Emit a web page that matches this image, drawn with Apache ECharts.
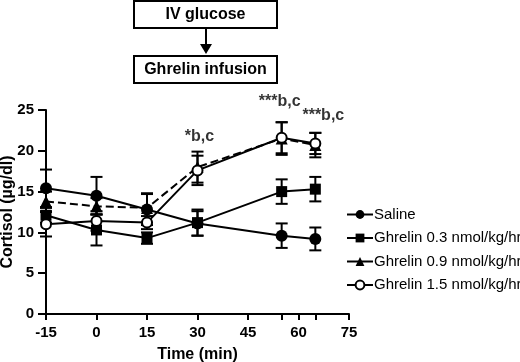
<!DOCTYPE html>
<html lang="en" style="height: 100%">
<head>
  <meta charset="utf-8">
  <script type="text/javascript" src="https://cdn.jsdelivr.net/npm/echarts@6/dist/echarts.min.js"></script>
</head>
<body style="height: 100%; margin: 0; background: #fff">
  <div id="chart" style="height: 362px; width: 520px"></div>

  <script type="text/javascript">
    var times = [-15, 0, 15, 30, 55, 65];
    var names = ['Saline', 'Ghrelin 0.3 nmol/kg/hr', 'Ghrelin 0.9 nmol/kg/hr', 'Ghrelin 1.5 nmol/kg/hr'];

    var saline = [15.4, 14.5, 12.8, 11.1, 9.6, 9.2];
    var salineErr = [2.3, 2.3, 1.9, 1.5, 1.5, 1.4];
    var g03 = [12.1, 10.3, 9.3, 11.2, 15.0, 15.3];
    var g03Err = [0.9, 1.9, 0.7, 1.6, 1.5, 1.5];
    var g09 = [13.8, 13.2, 13.0, 18.0, 21.5, 20.7];
    var g09Err = [1.2, 1.0, 1.8, 1.9, 2.0, 1.5];
    var g15 = [11.0, 11.4, 11.2, 17.6, 21.6, 20.9];
    var g15Err = [1.5, 1.2, 0.8, 1.8, 1.9, 1.3];

    var xTicks = [-15, 0, 15, 30, 45, 60, 75];
    var xMinorTicks = [-15, 0, 15, 30, 45, 55, 60, 65, 75];

    var sigTimes = [30, 55, 65];
    var sigY = [21.8, 26.0, 24.3];
    var sigText = ['*b,c', '***b,c', '***b,c'];

    var font = 'Arial, "Liberation Sans", sans-serif';

    function pts(vals) {
      var out = [];
      for (var i = 0; i < times.length; i++) out.push([times[i], vals[i]]);
      return out;
    }
    function errPts(vals, errs) {
      var out = [];
      for (var i = 0; i < times.length; i++) out.push([times[i], vals[i] - errs[i], vals[i] + errs[i]]);
      return out;
    }

    function renderErr(params, api) {
      var x = api.value(0);
      var lo = api.coord([x, api.value(1)]);
      var hi = api.coord([x, api.value(2)]);
      var w = 6;
      var st = { stroke: '#000', lineWidth: 2 };
      return {
        type: 'group',
        children: [
          { type: 'line', shape: { x1: lo[0], y1: lo[1], x2: hi[0], y2: hi[1] }, style: st },
          { type: 'line', shape: { x1: lo[0] - w, y1: lo[1], x2: lo[0] + w, y2: lo[1] }, style: st },
          { type: 'line', shape: { x1: hi[0] - w, y1: hi[1], x2: hi[0] + w, y2: hi[1] }, style: st }
        ]
      };
    }

    function errSeries(vals, errs) {
      return {
        type: 'custom',
        renderItem: renderErr,
        data: errPts(vals, errs),
        z: 1,
        silent: true
      };
    }

    var sigOffsets = [[2, 0], [-2, 0], [8, 0]];
    var sigData = [];
    for (var i = 0; i < sigTimes.length; i++) {
      sigData.push({ value: [sigTimes[i], sigY[i]], name: sigText[i], label: { offset: sigOffsets[i] } });
    }

    var chart = echarts.init(document.getElementById('chart'));

    var option = {
      animation: false,
      backgroundColor: '#fff',
      grid: { left: 46, right: 171, top: 110, bottom: 48, outerBoundsMode: 'none', containLabel: false },
      legend: {
        orient: 'vertical',
        left: 341,
        top: 202,
        itemWidth: 26,
        itemHeight: 11,
        itemGap: 8.5,
        lineStyle: { type: 'solid', width: 2, color: '#000' },
        data: names,
        textStyle: { color: '#000', fontSize: 15, fontFamily: font, padding: [0, 0, 0, -4] }
      },
      xAxis: {
        type: 'value',
        min: -15,
        max: 75,
        interval: 15,
        name: 'Time (min)',
        nameLocation: 'middle',
        nameGap: 33,
        nameMoveOverlap: false,
        nameTextStyle: { color: '#000', fontSize: 16, fontWeight: 'bold', fontFamily: font },
        splitLine: { show: false },
        axisLine: { lineStyle: { color: '#000', width: 2 } },
        axisTick: { length: 6, lineStyle: { color: '#000', width: 2 }, customValues: xMinorTicks },
        axisLabel: { color: '#000', fontSize: 15, fontWeight: 'bold', fontFamily: font, margin: 11, customValues: xTicks }
      },
      yAxis: {
        type: 'value',
        min: 0,
        max: 25,
        interval: 5,
        name: 'Cortisol (\u00b5g/dl)',
        nameLocation: 'middle',
        nameGap: 30,
        nameMoveOverlap: false,
        nameTextStyle: { color: '#000', fontSize: 16, fontWeight: 'bold', fontFamily: font },
        splitLine: { show: false },
        axisLine: { onZero: false, lineStyle: { color: '#000', width: 2 } },
        axisTick: { length: 8, lineStyle: { color: '#000', width: 2 } },
        axisLabel: { color: '#000', fontSize: 15, fontWeight: 'bold', fontFamily: font, margin: 12 }
      },
      series: [
        errSeries(saline, salineErr),
        errSeries(g03, g03Err),
        errSeries(g09, g09Err),
        errSeries(g15, g15Err),
        {
          name: names[0], type: 'line', data: pts(saline), symbol: 'circle', symbolSize: 12, z: 3,
          itemStyle: { color: '#000' }, lineStyle: { color: '#000', width: 2 }
        },
        {
          name: names[1], type: 'line', data: pts(g03), symbol: 'rect', symbolSize: 11, z: 3,
          itemStyle: { color: '#000' }, lineStyle: { color: '#000', width: 2 }
        },
        {
          name: names[2], type: 'line', data: pts(g09), symbol: 'triangle', symbolSize: 12, z: 3,
          itemStyle: { color: '#000' }, lineStyle: { color: '#000', width: 2, type: [8, 4] }
        },
        {
          name: names[3], type: 'line', data: pts(g15), symbol: 'emptyCircle', symbolSize: 10, z: 4,
          itemStyle: { color: '#000', borderWidth: 1.5 }, lineStyle: { color: '#000', width: 2 }
        },
        {
          type: 'scatter', data: sigData, symbolSize: 0, silent: true, clip: false,
          itemStyle: { color: '#000' },
          label: {
            show: true, position: 'inside', formatter: '{b}', color: '#000', textBorderWidth: 0,
            fontSize: 16, fontWeight: 'bold', fontFamily: font
          }
        }
      ],
      graphic: [
        { type: 'rect', shape: { x: 134, y: 1, width: 143, height: 27 }, style: { fill: '#fff', stroke: '#000', lineWidth: 2 } },
        { type: 'text', x: 205.5, y: 15, style: { text: 'IV glucose', fill: '#000', font: 'bold 16px ' + font, align: 'center', verticalAlign: 'middle' } },
        { type: 'line', shape: { x1: 206, y1: 28, x2: 206, y2: 45 }, style: { stroke: '#000', lineWidth: 2 } },
        { type: 'polygon', shape: { points: [[200, 44], [212, 44], [206, 54]] }, style: { fill: '#000' } },
        { type: 'rect', shape: { x: 134, y: 56, width: 143, height: 27 }, style: { fill: '#fff', stroke: '#000', lineWidth: 2 } },
        { type: 'text', x: 205.5, y: 70, style: { text: 'Ghrelin infusion', fill: '#000', font: 'bold 16px ' + font, align: 'center', verticalAlign: 'middle' } }
      ]
    };

    chart.setOption(option);
  </script>
</body>
</html>
